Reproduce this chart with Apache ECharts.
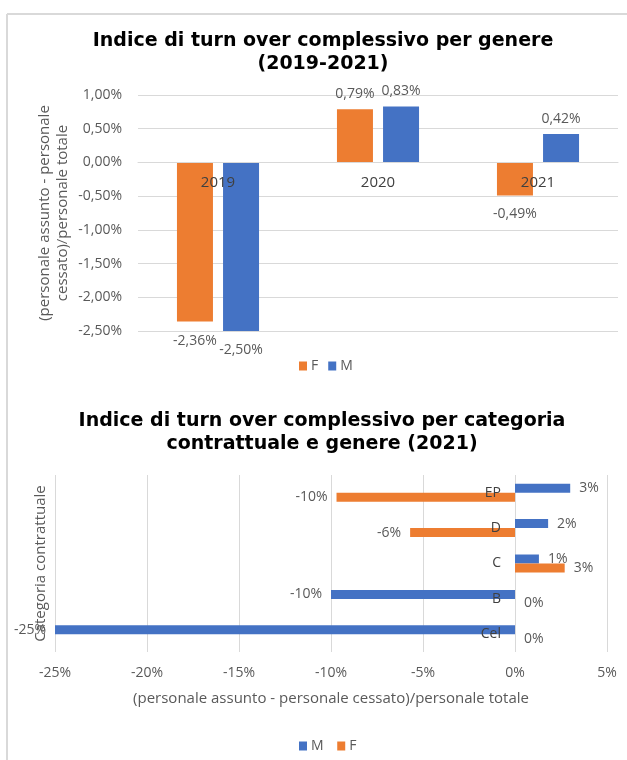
<!DOCTYPE html>
<html>
<head>
<meta charset="utf-8">
<script src="https://cdn.jsdelivr.net/npm/echarts@6/dist/echarts.min.js"></script>
<style>
  html, body { margin: 0; padding: 0; background: #fff; }
  #main { width: 627px; height: 760px; }
</style>
</head>
<body>
<div id="main"></div>
<script>
// chart 1: turn over per genere
const years = ['2019', '2020', '2021'];
const genereF = [-2.36, 0.79, -0.49];
const genereM = [-2.50, 0.83, 0.42];

// chart 2: turn over per categoria (2021), bottom to top
const categorie = ['Cel', 'B', 'C', 'D', 'EP'];
const catM = [-25, -10, 1.3, 1.8, 3.0];
const catF = [0, 0, 2.7, -5.7, -9.7];

const ORANGE = '#ED7D31';
const BLUE = '#4472C4';
const FONT = "'Open Sans', sans-serif";
const TITLE_FONT = "'DejaVu Sans', Verdana, sans-serif";

function pct2(v) {
  return v.toFixed(2).replace('.', ',') + '%';
}

let myChart = echarts.init(document.getElementById('main'));

let colItems = (arr) => arr.map((v) => ({
  value: v,
  label: {position: v < 0 ? 'bottom' : 'top', distance: v < 0 ? 12 : 8}
}));
let barItems = (arr) => arr.map((v) => ({
  value: v,
  label: {position: v < 0 ? 'left' : 'right'}
}));

myChart.setOption({
  animation: false,
  textStyle: {fontFamily: FONT},
  title: [
    {
      text: 'Indice di turn over complessivo per genere\n(2019-2021)',
      left: 318, top: 25, textAlign: 'center',
      textStyle: {fontFamily: TITLE_FONT, fontSize: 19, fontWeight: 'bold', color: '#000', lineHeight: 23}
    },
    {
      text: 'Indice di turn over complessivo per categoria\ncontrattuale e genere (2021)',
      left: 317, top: 405, textAlign: 'center',
      textStyle: {fontFamily: TITLE_FONT, fontSize: 19, fontWeight: 'bold', color: '#000', lineHeight: 23}
    }
  ],
  legend: [
    {
      data: ['F', 'M'], top: 359, left: 299, padding: 0,
      itemWidth: 8, itemHeight: 9, itemGap: 10, icon: 'rect',
      textStyle: {fontFamily: FONT, fontSize: 14, color: '#595959', padding: [0, 0, 0, -1]}
    },
    {
      data: ['M ', 'F '], top: 739, left: 299, padding: 0,
      itemWidth: 8, itemHeight: 9, itemGap: 10, icon: 'rect',
      textStyle: {fontFamily: FONT, fontSize: 14, color: '#595959', padding: [0, 0, 0, -1]}
    }
  ],
  grid: [
    {left: 138, right: 9, top: 95, bottom: 429, outerBoundsMode: 'none', containLabel: false},
    {left: 55, right: 20, top: 475, bottom: 108, outerBoundsMode: 'none', containLabel: false}
  ],
  xAxis: [
    {
      // category labels sit on the zero line, over the bars
      type: 'category', gridIndex: 0, data: years, z: 5,
      position: 'bottom', offset: -169,
      axisLine: {onZero: false, lineStyle: {color: '#d9d9d9'}},
      axisTick: {show: false},
      axisLabel: {color: '#404040', fontSize: 15, margin: 13}
    },
    {
      type: 'value', gridIndex: 1, min: -25, max: 5, interval: 5,
      name: '(personale assunto - personale cessato)/personale totale',
      nameLocation: 'middle', nameGap: 39, nameMoveOverlap: false,
      nameTextStyle: {color: '#595959', fontSize: 15},
      axisLabel: {formatter: (v) => v + '%', color: '#595959', fontSize: 14, margin: 14},
      splitLine: {lineStyle: {color: '#d9d9d9'}},
      axisLine: {show: false}, axisTick: {show: false}
    }
  ],
  yAxis: [
    {
      type: 'value', gridIndex: 0, min: -2.5, max: 1, interval: 0.5,
      name: '(personale assunto - personale\ncessato)/personale totale',
      nameLocation: 'middle', nameGap: 66, nameMoveOverlap: false,
      nameTextStyle: {color: '#595959', fontSize: 15, lineHeight: 18},
      axisLabel: {formatter: pct2, color: '#595959', fontSize: 14, margin: 16},
      splitLine: {lineStyle: {color: '#d9d9d9'}},
      axisLine: {show: false}, axisTick: {show: false}
    },
    {
      // category axis drawn at x = 0%
      type: 'category', gridIndex: 1, data: categorie, z: 5,
      position: 'left', offset: -460,
      name: 'Categoria contrattuale',
      nameLocation: 'middle', nameGap: 467, nameMoveOverlap: false,
      nameTextStyle: {color: '#595959', fontSize: 15},
      axisLine: {show: false, onZero: false},
      axisTick: {show: false},
      axisLabel: {color: '#404040', fontSize: 14, margin: 14}
    }
  ],
  series: [
    {
      name: 'F', type: 'bar', xAxisIndex: 0, yAxisIndex: 0,
      data: colItems(genereF), barWidth: 36, barGap: '28%',
      itemStyle: {color: ORANGE},
      label: {show: true, formatter: (p) => pct2(p.value), color: '#595959', fontSize: 14}
    },
    {
      name: 'M', type: 'bar', xAxisIndex: 0, yAxisIndex: 0,
      data: colItems(genereM), barWidth: 36, barGap: '28%',
      itemStyle: {color: BLUE},
      label: {show: true, formatter: (p) => pct2(p.value), color: '#595959', fontSize: 14}
    },
    {
      name: 'M ', type: 'bar', xAxisIndex: 1, yAxisIndex: 1,
      data: barItems(catM), barWidth: 9, barGap: '0%',
      itemStyle: {color: BLUE},
      label: {show: true, formatter: (p) => Math.round(p.value) + '%', color: '#595959', fontSize: 14, distance: 9}
    },
    {
      name: 'F ', type: 'bar', xAxisIndex: 1, yAxisIndex: 1,
      data: barItems(catF), barWidth: 9, barGap: '0%',
      itemStyle: {color: ORANGE},
      label: {show: true, formatter: (p) => Math.round(p.value) + '%', color: '#595959', fontSize: 14, distance: 9}
    }
  ],
  graphic: [
    {type: 'line', shape: {x1: 7, y1: 14, x2: 627, y2: 14}, style: {stroke: '#d9d9d9', lineWidth: 2}},
    {type: 'line', shape: {x1: 7, y1: 14, x2: 7, y2: 760}, style: {stroke: '#d9d9d9', lineWidth: 2}}
  ]
});
</script>
</body>
</html>
